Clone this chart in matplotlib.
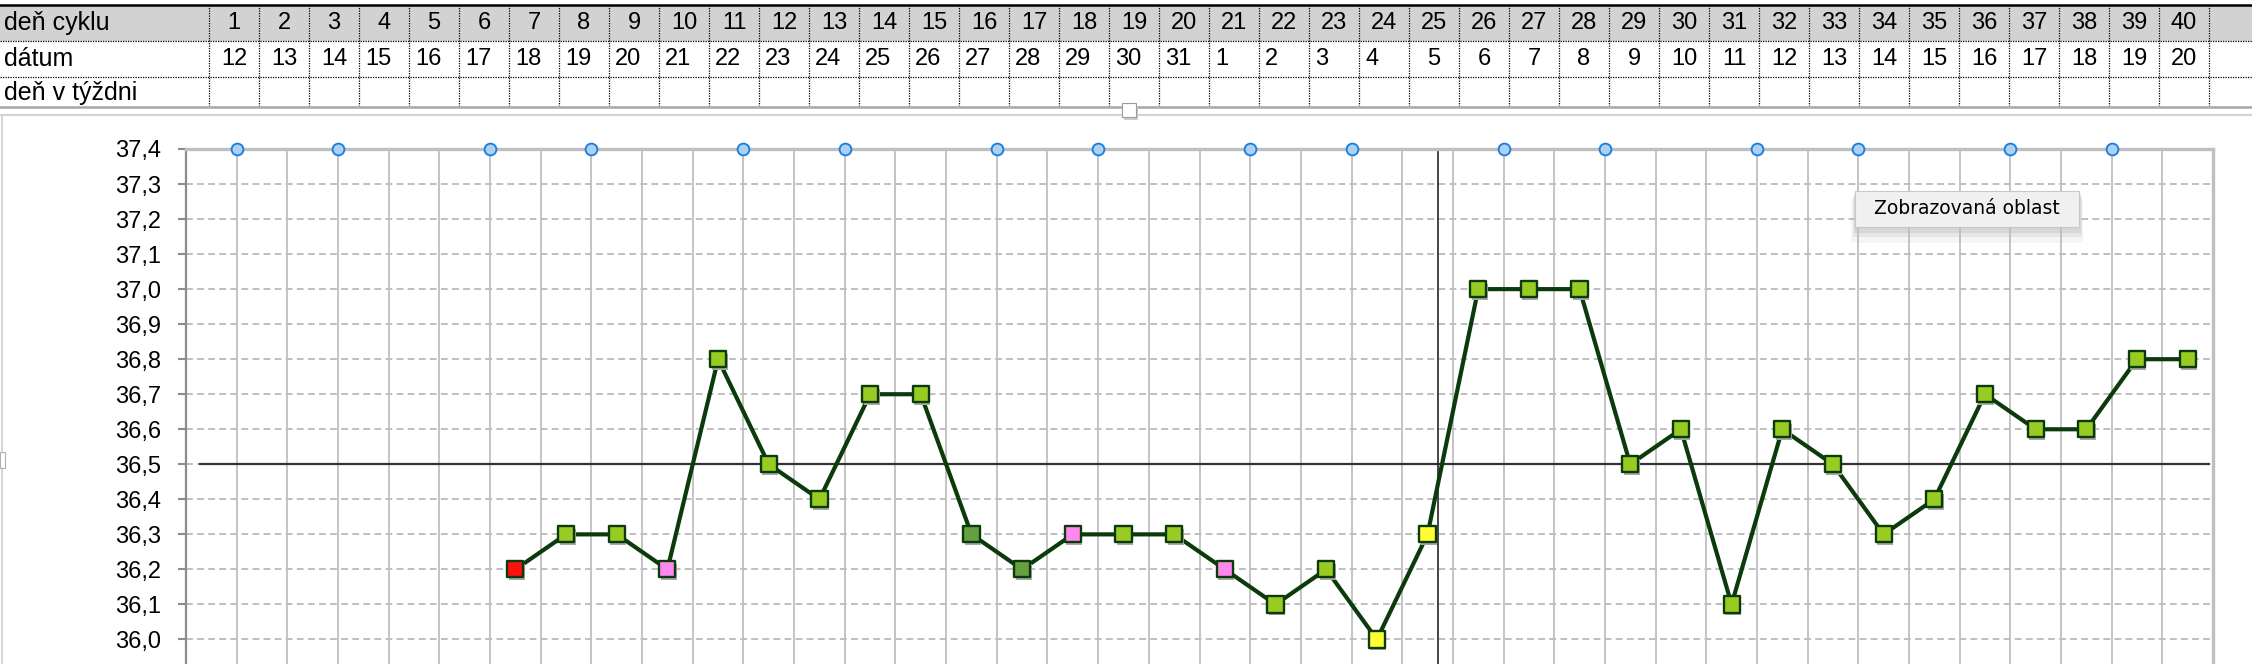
import numpy as np
import matplotlib
matplotlib.use('Agg')
import matplotlib.pyplot as plt
from matplotlib import transforms
from matplotlib.patches import Rectangle

# údaje z grafu
cycle_days = list(range(1, 41))
dates = list(range(12, 32)) + list(range(1, 21))
temps = [np.nan] * 6 + [
    36.2, 36.3, 36.3, 36.2, 36.8, 36.5, 36.4, 36.7, 36.7, 36.3,
    36.2, 36.3, 36.3, 36.3, 36.2, 36.1, 36.2, 36.0, 36.3, 37.0,
    37.0, 37.0, 36.5, 36.6, 36.1, 36.6, 36.5, 36.3, 36.4, 36.7,
    36.6, 36.6, 36.8, 36.8,
]
G, D, R, P, Y = '#99cc22', '#66a040', '#ff1010', '#ff88ee', '#ffff33'
marker_colors = [G] * 6 + [
    R, G, G, P, G, G, G, G, G, D,
    D, P, G, G, P, G, G, Y, Y, G,
    G, G, G, G, G, G, G, G, G, G,
    G, G, G, G,
]
y_ticks = np.round(np.arange(35.9, 37.45, 0.1), 1)
handle_bounds = [1, 3, 6, 8, 11, 13, 16, 18, 21, 23, 26, 28, 31, 33, 36, 38]
row_labels = ['deň cyklu', 'dátum', 'deň v týždni']
ref_temp = 36.5
ref_day = 25.2

W, H = 2252, 664
fig = plt.figure(figsize=(W / 100, H / 100), dpi=100)
plt.rcParams['font.family'] = ['Liberation Sans', 'DejaVu Sans']

# graf
ax = fig.add_axes([186 / W, -10.5 / H, 2027 / W, 525.5 / H], zorder=1)
ax.set_xlim(0.5, 40.5)
ax.set_ylim(35.9, 37.4)

for b in np.arange(1.5, 40.5, 1):
    ax.axvline(b, color='#bfbfbf', lw=1.3, zorder=1)
for t in y_ticks[:-1]:
    ax.axhline(t, color='#bfbfbf', lw=1.4, dashes=(3.5, 2.2), zorder=1)

ax.axhline(ref_temp, xmin=0.007, xmax=0.998, color='#333333', lw=1.6, zorder=2)
ax.axvline(ref_day, color='#262626', lw=1.2, zorder=2)

x = np.array(cycle_days)
t = np.array(temps)
ax.plot(x, t, color='#0b3a0b', lw=3.0, zorder=3)
shadow = transforms.offset_copy(ax.transData, fig=fig, x=1.5, y=-2.5, units='dots')
ok = ~np.isnan(t)
ax.scatter(x[ok], t[ok], marker='s', s=130, color='#a8a8a8', transform=shadow,
           zorder=3, linewidths=0)
ax.scatter(x[ok], t[ok], marker='s', s=135, c=[c for c, k in zip(marker_colors, ok) if k],
           edgecolors='#0b3a0b', linewidths=1.7, zorder=4)

ax.plot(np.array(handle_bounds) + 0.5, [37.4] * len(handle_bounds), 'o', ms=8.5,
        mfc='#a9d1f3', mec='#1a7bd8', mew=1.3, clip_on=False, zorder=6)

ax.set_xticks([])
ax.set_yticks(y_ticks)
ax.set_yticklabels([f'{v:.1f}'.replace('.', ',') for v in y_ticks], fontsize=17)
ax.tick_params(axis='y', length=6, width=1.5, color='#8c8c8c', pad=12)
ax.spines['bottom'].set_visible(False)
ax.spines['left'].set_color('#8c8c8c')
ax.spines['left'].set_linewidth(1.6)
for s in ['top', 'right']:
    ax.spines[s].set_color('#bfbfbf')
    ax.spines[s].set_linewidth(2.4)

# tabuľka hore + popis
ov = fig.add_axes([0, 0, 1, 1], zorder=5)
ov.set_xlim(0, W)
ov.set_ylim(H, 0)
ov.axis('off')

ov.add_patch(Rectangle((0, 5), W, 36, facecolor='#d2d2d2', edgecolor='none'))
ov.plot([0, W], [5, 5], color='black', lw=1.8)
for yy in [41, 77]:
    ov.plot([0, W], [yy, yy], color='black', lw=0.9, ls=(0, (1, 1)))
for k in range(41):
    xx = 209 + 50 * k
    ov.plot([xx, xx], [5, 107], color='black', lw=0.9, ls=(0, (1, 1)))

row_y = [23, 59, 93]
for lab, yy in zip(row_labels, row_y):
    ov.text(4, yy, lab, fontsize=18, va='center', ha='left')
for i, (d, dt) in enumerate(zip(cycle_days, dates)):
    cx = 209 + 50 * i + 25
    ov.text(cx, 23, str(d), fontsize=17, va='center', ha='center')
    if 4 <= d <= 24:
        ov.text(209 + 50 * i + 6, 59, str(dt), fontsize=17, va='center', ha='left')
    else:
        ov.text(cx, 59, str(dt), fontsize=17, va='center', ha='center')

ov.add_patch(Rectangle((0, 106), W, 4, facecolor='white', edgecolor='none', zorder=3))
ov.plot([0, W], [107, 107], color='#a6a6a6', lw=1.8, zorder=4)
ov.plot([0, W], [115, 115], color='#d4d4d4', lw=1.6, zorder=4)
ov.plot([2, 2], [115, H], color='#d4d4d4', lw=1.4, zorder=4)
ov.add_patch(Rectangle((0, 452), 5, 16, facecolor='white', edgecolor='#b0b0b0', lw=0.8, zorder=4))
ov.add_patch(Rectangle((1124, 106), 14, 14, facecolor='#cccccc', edgecolor='none', zorder=4))
ov.add_patch(Rectangle((1122, 103), 14, 14, facecolor='white', edgecolor='#9a9a9a', lw=0.8, zorder=5))

# tooltip
for off, a in [(8, 0.15), (5, 0.25), (3, 0.35)]:
    ov.add_patch(Rectangle((1855 - off / 2, 191 + off), 224 + off, 36 + off,
                           facecolor='#bdbdbd', edgecolor='none', alpha=a, zorder=6))
ov.add_patch(Rectangle((1855, 191), 224, 36, facecolor='#f0f0f0', edgecolor='#c8c8c8', lw=0.8, zorder=7))
ov.text(1967, 209, 'Zobrazovaná oblast', fontsize=13.5, family=['DejaVu Sans'],
        va='center', ha='center', zorder=8)

plt.savefig('out.png', dpi=100)
